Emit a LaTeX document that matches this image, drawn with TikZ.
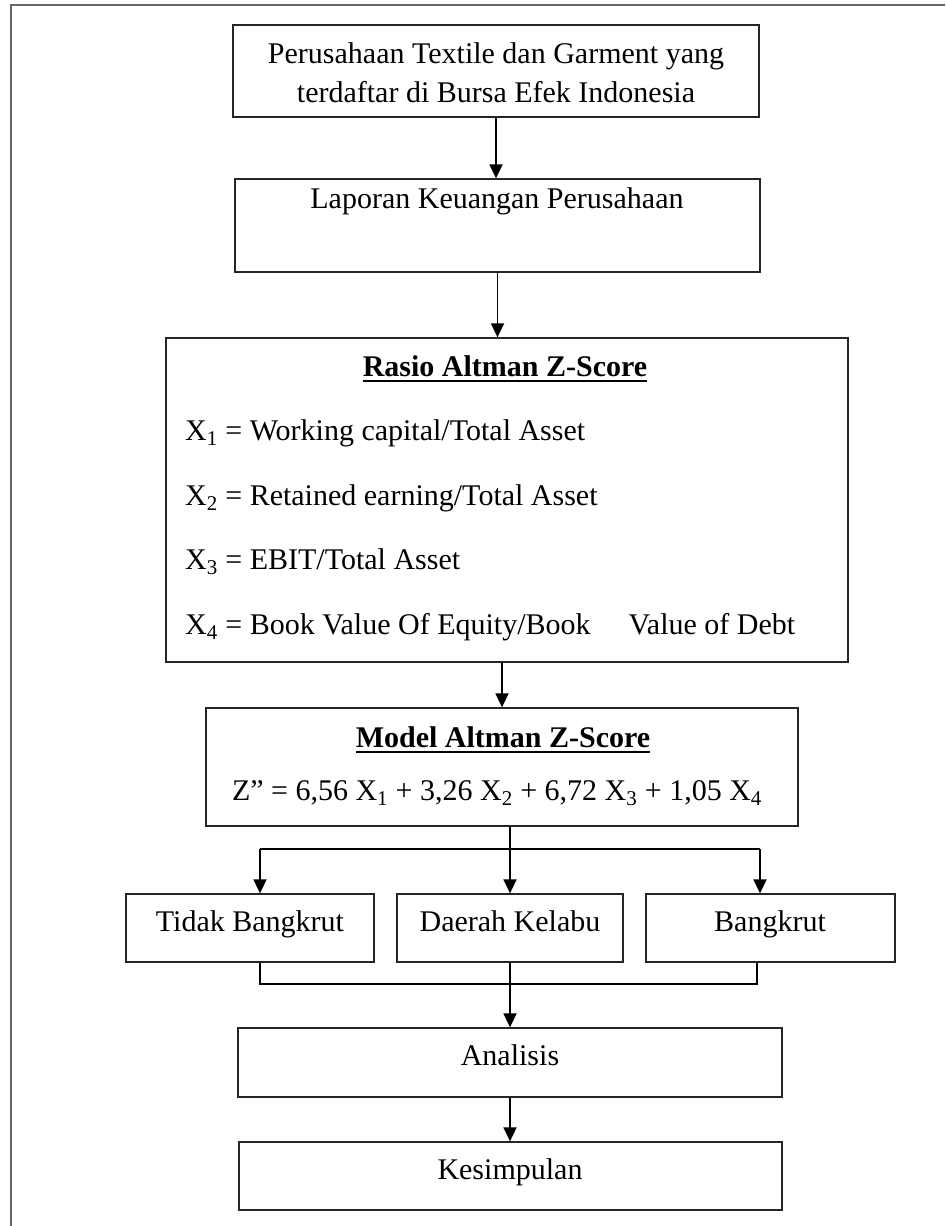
\documentclass[tikz,border=0pt]{standalone}
\usepackage{fontspec}
\setmainfont{Liberation Serif}
\usetikzlibrary{arrows.meta}
\begin{document}
\begin{tikzpicture}[x=1pt,y=-1pt,
  box/.style={draw=black!85, line width=1.3pt, rectangle, inner sep=0pt},
  txt/.style={inner sep=0pt, anchor=base, font=\fontsize{30}{36}\selectfont},
  ltxt/.style={txt, anchor=base west},
  arr/.style={line width=1.8pt, -{Triangle[length=14pt,width=13pt]}},
  ln/.style={line width=1.8pt},
  ul/.style={line width=2.4pt},
  frame/.style={draw=black!60, line width=1.6pt}]
\useasboundingbox (0,0) rectangle (945,1226);
% outer frame (cut off at right and bottom)
\draw[frame] (11,1226) -- (11,5) -- (945,5);

% boxes
\node[box, minimum width=526pt, minimum height=92pt] (b1) at (496,71) {};
\node[box, minimum width=525pt, minimum height=93pt] (b2) at (497.5,225.5) {};
\node[box, minimum width=682pt, minimum height=324pt] (b3) at (507,500) {};
\node[box, minimum width=592pt, minimum height=118pt] (b4) at (502,767) {};
\node[box, minimum width=248pt, minimum height=68pt] (c1) at (250,928) {};
\node[box, minimum width=226pt, minimum height=68pt] (c2) at (510,928) {};
\node[box, minimum width=249pt, minimum height=68pt] (c3) at (770.5,928) {};
\node[box, minimum width=544pt, minimum height=69pt] (d1) at (510,1062.5) {};
\node[box, minimum width=543pt, minimum height=68pt] (d2) at (510.5,1176) {};

% texts
\node[txt] (t1a) at (496,63) {Perusahaan Textile dan Garment yang};
\node[txt] (t1b) at (496,102) {terdaftar di Bursa Efek Indonesia};
\node[txt] (t2) at (497,208) {Laporan Keuangan Perusahaan};
\node[txt] (t3) at (505,376) {\bfseries Rasio Altman Z-Score};
\draw[ul] ([yshift=-5pt]t3.base west) -- ([yshift=-5pt]t3.base east);
\node[ltxt] (x1) at (185,440) {X\textsubscript{1} = Working capital/Total Asset};
\node[ltxt] (x2) at (185,505) {X\textsubscript{2} = Retained earning/Total Asset};
\node[ltxt] (x3) at (185,569) {X\textsubscript{3} = EBIT/Total Asset};
\node[ltxt] (x4) at (185,634) {X\textsubscript{4} = Book Value Of Equity/Book\hspace{38pt}Value of Debt};
\node[txt] (t4) at (503,747) {\bfseries Model Altman Z-Score};
\draw[ul] ([yshift=-5pt]t4.base west) -- ([yshift=-5pt]t4.base east);
\node[txt] (eq) at (497,800) {Z” = 6,56 X\textsubscript{1} + 3,26 X\textsubscript{2} + 6,72 X\textsubscript{3} + 1,05 X\textsubscript{4}};
\node[txt] (tc1) at (250,931) {Tidak Bangkrut};
\node[txt] (tc2) at (510,931) {Daerah Kelabu};
\node[txt] (tc3) at (770,931) {Bangkrut};
\node[txt] (td1) at (510,1065) {Analisis};
\node[txt] (td2) at (510,1179) {Kesimpulan};

% connectors
\draw[arr] (b1.south) -- (b1.south |- b2.north);
\draw[arr] (b2.south) -- (b2.south |- b3.north);
\draw[arr] (b4.north |- b3.south) -- (b4.north);

\coordinate (j0) at (510,849);
\coordinate (jl) at (260,849);
\coordinate (jr) at (760,849);
\draw[ln] (b4.south -| j0) -- (j0);
\draw[ln] (jl) -- (jr);
\draw[arr] (jl) -- (jl |- c1.north);
\draw[arr] (j0) -- (j0 |- c2.north);
\draw[arr] (jr) -- (jr |- c3.north);

\coordinate (kl) at (260,984);
\coordinate (kr) at (757,984);
\draw[ln] (kl |- c1.south) -- (kl) -- (kr) -- (kr |- c3.south);
\draw[arr] (c2.south) -- (c2.south |- d1.north);
\draw[arr] (d1.south) -- (d1.south |- d2.north);
\end{tikzpicture}
\end{document}
